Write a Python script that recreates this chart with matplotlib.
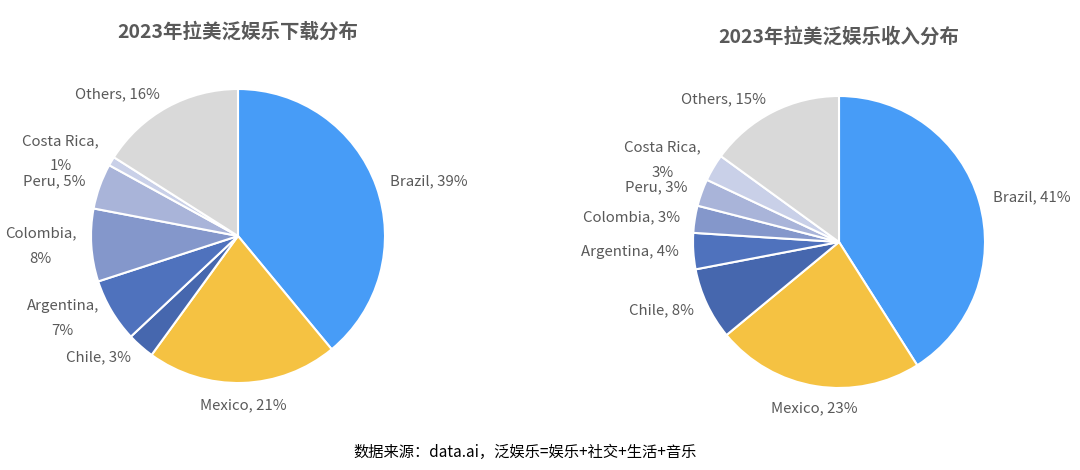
import matplotlib.pyplot as plt

plt.rcParams['font.family'] = ['Noto Sans CJK SC', 'DejaVu Sans']

countries = ['Brazil', 'Mexico', 'Chile', 'Argentina', 'Colombia', 'Peru', 'Costa Rica', 'Others']
downloads = [39, 21, 3, 7, 8, 5, 1, 16]
revenue = [41, 23, 8, 4, 3, 3, 3, 15]
colors = ['#479CF7', '#F5C242', '#4667AE', '#4F72BD', '#8497CB', '#A9B4D9', '#C9D0E8', '#D9D9D9']

# labels that wrap onto two lines
wrap_left = {'Argentina', 'Colombia', 'Costa Rica'}
wrap_right = {'Costa Rica'}

W, H = 1080, 470
fig = plt.figure(figsize=(W / 100, H / 100), dpi=100)


def make_pie(cx, cy, R, values, wrap, title, ty):
    k = 1.7
    ax = fig.add_axes([(cx - R * k) / W, 1 - (cy + R * k) / H, 2 * R * k / W, 2 * R * k / H])
    labels = []
    for c, v in zip(countries, values):
        sep = ',\n' if c in wrap else ', '
        labels.append(f'{c}{sep}{v}%')
    wedges, texts = ax.pie(values, labels=labels, colors=colors, startangle=90, counterclock=False,
                           labeldistance=1.1, radius=1.0,
                           wedgeprops=dict(edgecolor='white', linewidth=1.5),
                           textprops=dict(fontsize=10.8, color='#595959'))
    for t in texts:
        t.set_multialignment('center')
        t.set_linespacing(2.0)
        if t.get_text().startswith('Mexico'):
            t.set_horizontalalignment('center')
            t.set_y(t.get_position()[1] - 0.05)
    ax.set_xlim(-k, k)
    ax.set_ylim(-k, k)
    ax.set_aspect('equal')
    ax.axis('off')
    fig.text(cx / W, 1 - ty / H, title, ha='center', va='center', fontsize=14,
             fontweight='bold', color='#595959')


make_pie(238, 236, 147, downloads, wrap_left, '2023年拉美泛娱乐下载分布', 32)
make_pie(839, 242, 146, revenue, wrap_right, '2023年拉美泛娱乐收入分布', 37)

fig.text(525 / W, 1 - 452 / H, '数据来源：data.ai，泛娱乐=娱乐+社交+生活+音乐', ha='center', va='center',
         fontsize=11, color='#000000')

fig.savefig('out.png', dpi=100, facecolor='white')
